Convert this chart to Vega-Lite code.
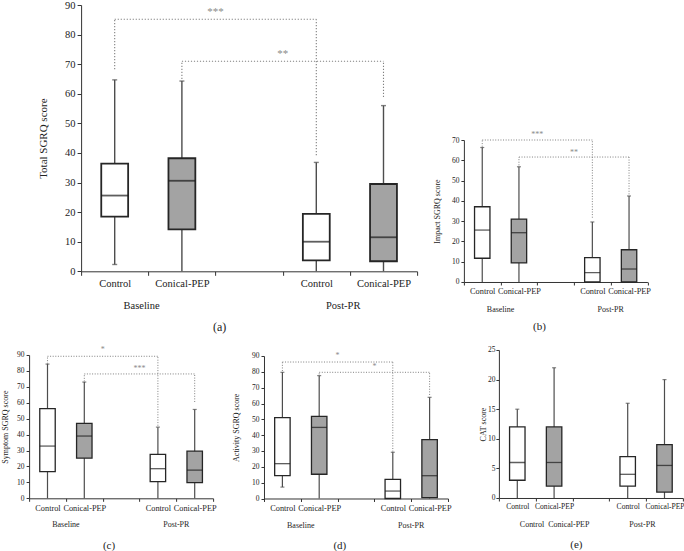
{
  "$schema": "https://vega.github.io/schema/vega-lite/v6.json",
  "padding": {"left": 1.1, "top": 0, "right": 0, "bottom": 0},
  "config": {
    "view": {"stroke": null},
    "font": "Liberation Serif",
    "text": {"font": "Liberation Serif"},
    "axis": {
      "domainColor": "#333333",
      "tickColor": "#333333",
      "labelColor": "#222222",
      "titleColor": "#222222",
      "labelFont": "Liberation Serif",
      "titleFont": "Liberation Serif",
      "titleFontWeight": "normal",
      "grid": false,
      "domainWidth": 1,
      "tickWidth": 1,
      "labelOverlap": false
    }
  },
  "datasets": {
    "a_box": [
      {"key": "Baseline|Control", "group": "Control", "min": 2.3, "q1": 18.5, "med": 25.6, "q3": 36.4, "max": 64.7},
      {"key": "Baseline|Conical-PEP", "group": "Conical-PEP", "min": 0, "q1": 14.2, "med": 30.6, "q3": 38.2, "max": 64.3},
      {"key": "Post-PR|Control", "group": "Control", "min": 0, "q1": 3.7, "med": 10.0, "q3": 19.4, "max": 36.8},
      {"key": "Post-PR|Conical-PEP", "group": "Conical-PEP", "min": 0, "q1": 3.4, "med": 11.5, "q3": 29.5, "max": 56.0}
    ],
    "a_br": [
      {"key": "Baseline|Control", "key2": "Baseline|Control", "y1": 68.3, "y2": 85.2},
      {"key": "Baseline|Control", "key2": "Post-PR|Control", "y1": 85.2, "y2": 85.2},
      {"key": "Post-PR|Control", "key2": "Post-PR|Control", "y1": 39.2, "y2": 85.2},
      {"key": "Baseline|Conical-PEP", "key2": "Baseline|Conical-PEP", "y1": 65.0, "y2": 71.0},
      {"key": "Baseline|Conical-PEP", "key2": "Post-PR|Conical-PEP", "y1": 71.0, "y2": 71.0},
      {"key": "Post-PR|Conical-PEP", "key2": "Post-PR|Conical-PEP", "y1": 58.9, "y2": 71.0}
    ],
    "a_st": [
      {"key": "gap", "y": 87.6, "label": "***"},
      {"key": "Post-PR|Control", "y": 73.5, "label": "**"}
    ],
    "a_grp": [
      {"key": "Baseline|Control", "label": "Baseline"},
      {"key": "Post-PR|Control", "label": "Post-PR"}
    ],
    "b_box": [
      {"key": "Baseline|Control", "group": "Control", "min": 0, "q1": 11.7, "med": 25.6, "q3": 37.1, "max": 66.3},
      {"key": "Baseline|Conical-PEP", "group": "Conical-PEP", "min": 0, "q1": 9.4, "med": 24.3, "q3": 31.0, "max": 56.8},
      {"key": "Post-PR|Control", "group": "Control", "min": 0, "q1": 0, "med": 4.6, "q3": 12.0, "max": 29.6},
      {"key": "Post-PR|Conical-PEP", "group": "Conical-PEP", "min": 0, "q1": 0, "med": 6.4, "q3": 15.9, "max": 42.4}
    ],
    "b_br": [
      {"key": "Baseline|Control", "key2": "Baseline|Control", "y1": 66.7, "y2": 70},
      {"key": "Baseline|Control", "key2": "Post-PR|Control", "y1": 70, "y2": 70},
      {"key": "Post-PR|Control", "key2": "Post-PR|Control", "y1": 31.7, "y2": 70},
      {"key": "Baseline|Conical-PEP", "key2": "Baseline|Conical-PEP", "y1": 57.5, "y2": 61.6},
      {"key": "Baseline|Conical-PEP", "key2": "Post-PR|Conical-PEP", "y1": 61.6, "y2": 61.6},
      {"key": "Post-PR|Conical-PEP", "key2": "Post-PR|Conical-PEP", "y1": 43.2, "y2": 61.6}
    ],
    "b_st": [
      {"key": "gap", "y": 72.3, "label": "***"},
      {"key": "Post-PR|Control", "y": 63.5, "label": "**"}
    ],
    "b_grp": [
      {"key": "Baseline|Conical-PEP", "label": "Baseline"},
      {"key": "Post-PR|Conical-PEP", "label": "Post-PR"}
    ],
    "c_box": [
      {"key": "Baseline|Control", "group": "Control", "min": 0, "q1": 16.7, "med": 32.8, "q3": 56.3, "max": 84.3},
      {"key": "Baseline|Conical-PEP", "group": "Conical-PEP", "min": 0, "q1": 25.2, "med": 39.1, "q3": 47.0, "max": 73.0},
      {"key": "Post-PR|Control", "group": "Control", "min": 0, "q1": 10.5, "med": 18.6, "q3": 27.6, "max": 44.7},
      {"key": "Post-PR|Conical-PEP", "group": "Conical-PEP", "min": 0, "q1": 9.8, "med": 17.7, "q3": 29.6, "max": 55.8}
    ],
    "c_br": [
      {"key": "Baseline|Control", "key2": "Baseline|Control", "y1": 84.5, "y2": 89.2},
      {"key": "Baseline|Control", "key2": "Post-PR|Control", "y1": 89.2, "y2": 89.2},
      {"key": "Post-PR|Control", "key2": "Post-PR|Control", "y1": 45.6, "y2": 89.2},
      {"key": "Baseline|Conical-PEP", "key2": "Baseline|Conical-PEP", "y1": 73.4, "y2": 78.1},
      {"key": "Baseline|Conical-PEP", "key2": "Post-PR|Conical-PEP", "y1": 78.1, "y2": 78.1},
      {"key": "Post-PR|Conical-PEP", "key2": "Post-PR|Conical-PEP", "y1": 60.5, "y2": 78.1}
    ],
    "c_st": [
      {"key": "gap", "y": 92.9, "label": "*"},
      {"key": "Post-PR|Control", "y": 81.0, "label": "***"}
    ],
    "c_grp": [
      {"key": "Baseline|Conical-PEP", "label": "Baseline"},
      {"key": "Post-PR|Conical-PEP", "label": "Post-PR"}
    ],
    "d_box": [
      {"key": "Baseline|Control", "group": "Control", "min": 7.2, "q1": 14.4, "med": 22.0, "q3": 51.1, "max": 79.7},
      {"key": "Baseline|Conical-PEP", "group": "Conical-PEP", "min": 0, "q1": 15.3, "med": 44.9, "q3": 51.9, "max": 77.6},
      {"key": "Post-PR|Control", "group": "Control", "min": 0, "q1": 0, "med": 4.7, "q3": 12.1, "max": 29.2},
      {"key": "Post-PR|Conical-PEP", "group": "Conical-PEP", "min": 0, "q1": 0.5, "med": 14.4, "q3": 37.2, "max": 63.9}
    ],
    "d_br": [
      {"key": "Baseline|Control", "key2": "Baseline|Control", "y1": 80.5, "y2": 86.2},
      {"key": "Baseline|Control", "key2": "Post-PR|Control", "y1": 86.2, "y2": 86.2},
      {"key": "Post-PR|Control", "key2": "Post-PR|Control", "y1": 29.6, "y2": 86.2},
      {"key": "Baseline|Conical-PEP", "key2": "Baseline|Conical-PEP", "y1": 78.4, "y2": 79.7},
      {"key": "Baseline|Conical-PEP", "key2": "Post-PR|Conical-PEP", "y1": 79.7, "y2": 79.7},
      {"key": "Post-PR|Conical-PEP", "key2": "Post-PR|Conical-PEP", "y1": 65.4, "y2": 79.7}
    ],
    "d_st": [
      {"key": "gap", "y": 90.0, "label": "*"},
      {"key": "Post-PR|Control", "y": 83.3, "label": "*"}
    ],
    "d_grp": [
      {"key": "Baseline|Conical-PEP", "label": "Baseline"},
      {"key": "Post-PR|Conical-PEP", "label": "Post-PR"}
    ],
    "e_box": [
      {"key": "Baseline|Control", "group": "Control", "min": 0, "q1": 3, "med": 6, "q3": 12, "max": 15},
      {"key": "Baseline|Conical-PEP", "group": "Conical-PEP", "min": 0, "q1": 2, "med": 6, "q3": 12, "max": 22},
      {"key": "Post-PR|Control", "group": "Control", "min": 0, "q1": 2, "med": 4, "q3": 7, "max": 16},
      {"key": "Post-PR|Conical-PEP", "group": "Conical-PEP", "min": 0, "q1": 1, "med": 5.5, "q3": 9, "max": 20}
    ],
    "e_grp": [
      {"key": "Baseline|Control", "label": "Control"},
      {"key": "Baseline|Conical-PEP", "label": "Conical-PEP"},
      {"key": "Post-PR|Control", "label": "Post-PR"}
    ]
  },
  "vconcat": [
    {
      "hconcat": [
        {"width": 7.3, "height": 1, "data": {"values": []}, "mark": {"type": "point", "opacity": 0}},
        {
          "hconcat": [
            {
              "width": 336,
              "height": 266.3,
              "layer": [
                {
                  "data": {"name": "a_box"},
                  "mark": {"type": "rule", "color": "#4d4d4d", "strokeWidth": 1.4},
                  "encoding": {
                    "x": {
                      "field": "key", "type": "nominal",
                      "scale": {"domain": ["Baseline|Control", "Baseline|Conical-PEP", "gap", "Post-PR|Control", "Post-PR|Conical-PEP"], "paddingInner": 0, "paddingOuter": 0},
                      "axis": {"title": "(a)", "titleFontSize": 12, "titlePadding": 32, "titleX": 138, "titleAlign": "center", "labelExpr": "split(datum.value, '|')[1] || ''", "labelAngle": 0, "labelFontSize": 10.5, "labelPadding": 3.5, "tickSize": 4, "tickBand": "extent", "labelOverlap": false}
                    },
                    "y": {
                      "field": "min", "type": "quantitative",
                      "scale": {"domain": [0, 90], "nice": false},
                      "axis": {"title": "Total SGRQ score", "values": [0, 10, 20, 30, 40, 50, 60, 70, 80, 90], "tickCount": 20, "labelOverlap": false, "labelFontSize": 10.5, "titleFontSize": 11, "titlePadding": 16, "tickSize": 4, "labelPadding": 2}
                    },
                    "y2": {"field": "max"}
                  }
                },
                {
                  "data": {"name": "a_box"},
                  "mark": {"type": "tick", "color": "#4d4d4d", "thickness": 1.4, "size": 5},
                  "encoding": {"x": {"field": "key", "type": "nominal"}, "y": {"field": "max", "type": "quantitative"}}
                },
                {
                  "data": {"name": "a_box"},
                  "transform": [{"filter": "datum.min > 0"}],
                  "mark": {"type": "tick", "color": "#4d4d4d", "thickness": 1.4, "size": 5},
                  "encoding": {"x": {"field": "key", "type": "nominal"}, "y": {"field": "min", "type": "quantitative"}}
                },
                {
                  "data": {"name": "a_box"},
                  "mark": {"type": "bar", "stroke": "#262626", "strokeWidth": 1.8, "width": {"band": 0.4}},
                  "encoding": {
                    "x": {"field": "key", "type": "nominal"},
                    "y": {"field": "q1", "type": "quantitative"},
                    "y2": {"field": "q3"},
                    "fill": {"field": "group", "type": "nominal", "scale": {"domain": ["Control", "Conical-PEP"], "range": ["#ffffff", "#a3a3a3"]}, "legend": null}
                  }
                },
                {
                  "data": {"name": "a_box"},
                  "mark": {"type": "tick", "color": "#1a1a1a", "thickness": 1.8, "size": 27},
                  "encoding": {"x": {"field": "key", "type": "nominal"}, "y": {"field": "med", "type": "quantitative"}}
                },
                {
                  "data": {"name": "a_br"},
                  "mark": {"type": "rule", "color": "#808080", "strokeWidth": 1.1, "strokeDash": [1.2, 1.8]},
                  "encoding": {"x": {"field": "key", "type": "nominal"}, "x2": {"field": "key2"}, "y": {"field": "y1", "type": "quantitative"}, "y2": {"field": "y2"}}
                },
                {
                  "data": {"name": "a_st"},
                  "mark": {"type": "text", "color": "#8a8a8a", "fontSize": 11, "baseline": "middle"},
                  "encoding": {"x": {"field": "key", "type": "nominal", "bandPosition": 0}, "y": {"field": "y", "type": "quantitative"}, "text": {"field": "label"}}
                },
                {
                  "data": {"name": "a_grp"},
                  "mark": {"type": "text", "color": "#222222", "fontSize": 10.5, "baseline": "middle"},
                  "encoding": {"x": {"field": "key", "type": "nominal", "bandPosition": 0.9}, "y": {"datum": -11.8, "type": "quantitative"}, "text": {"field": "label"}}
                }
              ]
            },
            {
              "vconcat": [
                {"width": 10, "height": 125.7, "data": {"values": []}, "mark": {"type": "point", "opacity": 0}},
                {
                  "width": 183.5,
                  "height": 142,
                  "layer": [
                    {
                      "data": {"name": "b_box"},
                      "mark": {"type": "rule", "color": "#4d4d4d", "strokeWidth": 1.2},
                      "encoding": {
                        "x": {
                          "field": "key", "type": "nominal",
                          "scale": {"domain": ["Baseline|Control", "Baseline|Conical-PEP", "gap", "Post-PR|Control", "Post-PR|Conical-PEP"], "paddingInner": 0, "paddingOuter": 0},
                          "axis": {"title": "(b)", "titleFontSize": 11, "titlePadding": 25, "titleX": 75, "titleAlign": "center", "labelExpr": "split(datum.value, '|')[1] || ''", "labelAngle": 0, "labelFontSize": 8.3, "labelPadding": 2, "tickSize": 3, "tickBand": "extent", "labelOverlap": false}
                        },
                        "y": {
                          "field": "min", "type": "quantitative",
                          "scale": {"domain": [0, 70], "nice": false},
                          "axis": {"title": "Impact SGRQ score", "values": [0, 10, 20, 30, 40, 50, 60, 70], "tickCount": 20, "labelOverlap": false, "labelFontSize": 7.5, "titleFontSize": 8, "titlePadding": 10, "tickSize": 3, "labelPadding": 2}
                        },
                        "y2": {"field": "max"}
                      }
                    },
                    {
                      "data": {"name": "b_box"},
                      "mark": {"type": "tick", "color": "#4d4d4d", "thickness": 1.2, "size": 4},
                      "encoding": {"x": {"field": "key", "type": "nominal"}, "y": {"field": "max", "type": "quantitative"}}
                    },
                    {
                      "data": {"name": "b_box"},
                      "mark": {"type": "bar", "stroke": "#262626", "strokeWidth": 1.3, "width": {"band": 0.42}},
                      "encoding": {
                        "x": {"field": "key", "type": "nominal"},
                        "y": {"field": "q1", "type": "quantitative"},
                        "y2": {"field": "q3"},
                        "fill": {"field": "group", "type": "nominal", "scale": {"domain": ["Control", "Conical-PEP"], "range": ["#ffffff", "#a3a3a3"]}, "legend": null}
                      }
                    },
                    {
                      "data": {"name": "b_box"},
                      "mark": {"type": "tick", "color": "#1a1a1a", "thickness": 1.3, "size": 15.4},
                      "encoding": {"x": {"field": "key", "type": "nominal"}, "y": {"field": "med", "type": "quantitative"}}
                    },
                    {
                      "data": {"name": "b_br"},
                      "mark": {"type": "rule", "color": "#808080", "strokeWidth": 1, "strokeDash": [1, 1.6]},
                      "encoding": {"x": {"field": "key", "type": "nominal"}, "x2": {"field": "key2"}, "y": {"field": "y1", "type": "quantitative"}, "y2": {"field": "y2"}}
                    },
                    {
                      "data": {"name": "b_st"},
                      "mark": {"type": "text", "color": "#8a8a8a", "fontSize": 8, "baseline": "middle"},
                      "encoding": {"x": {"field": "key", "type": "nominal", "bandPosition": 0}, "y": {"field": "y", "type": "quantitative"}, "text": {"field": "label"}}
                    },
                    {
                      "data": {"name": "b_grp"},
                      "mark": {"type": "text", "color": "#222222", "fontSize": 8, "baseline": "middle"},
                      "encoding": {"x": {"field": "key", "type": "nominal", "bandPosition": 0}, "y": {"datum": -13.8, "type": "quantitative"}, "text": {"field": "label"}}
                    }
                  ]
                }
              ],
              "spacing": 0,
              "resolve": {"scale": {"x": "independent", "y": "independent"}}
            }
          ],
          "spacing": 14.8,
          "resolve": {"scale": {"x": "independent", "y": "independent"}}
        }
      ],
      "spacing": 0,
      "resolve": {"scale": {"x": "independent", "y": "independent"}}
    },
    {
      "hconcat": [
        {
          "vconcat": [
            {"width": 1, "height": 0.5, "data": {"values": []}, "mark": {"type": "point", "opacity": 0}},
            {
              "width": 184,
              "height": 143.3,
              "layer": [
                {
                  "data": {"name": "c_box"},
                  "mark": {"type": "rule", "color": "#4d4d4d", "strokeWidth": 1.2},
                  "encoding": {
                    "x": {
                      "field": "key", "type": "nominal",
                      "scale": {"domain": ["Baseline|Control", "Baseline|Conical-PEP", "gap", "Post-PR|Control", "Post-PR|Conical-PEP"], "paddingInner": 0, "paddingOuter": 0},
                      "axis": {"title": "(c)", "titleFontSize": 11, "titlePadding": 28, "titleX": 79.4, "titleAlign": "center", "labelExpr": "split(datum.value, '|')[1] || ''", "labelAngle": 0, "labelFontSize": 8.3, "labelPadding": 2, "tickSize": 3, "tickBand": "extent", "labelOverlap": false}
                    },
                    "y": {
                      "field": "min", "type": "quantitative",
                      "scale": {"domain": [0, 90], "nice": false},
                      "axis": {"title": "Symptom SGRQ score", "values": [0, 10, 20, 30, 40, 50, 60, 70, 80, 90], "tickCount": 20, "labelOverlap": false, "labelFontSize": 7.5, "titleFontSize": 8, "titlePadding": 7, "tickSize": 3, "labelPadding": 2}
                    },
                    "y2": {"field": "max"}
                  }
                },
                {
                  "data": {"name": "c_box"},
                  "mark": {"type": "tick", "color": "#4d4d4d", "thickness": 1.2, "size": 4},
                  "encoding": {"x": {"field": "key", "type": "nominal"}, "y": {"field": "max", "type": "quantitative"}}
                },
                {
                  "data": {"name": "c_box"},
                  "mark": {"type": "bar", "stroke": "#262626", "strokeWidth": 1.3, "width": {"band": 0.42}},
                  "encoding": {
                    "x": {"field": "key", "type": "nominal"},
                    "y": {"field": "q1", "type": "quantitative"},
                    "y2": {"field": "q3"},
                    "fill": {"field": "group", "type": "nominal", "scale": {"domain": ["Control", "Conical-PEP"], "range": ["#ffffff", "#a3a3a3"]}, "legend": null}
                  }
                },
                {
                  "data": {"name": "c_box"},
                  "mark": {"type": "tick", "color": "#1a1a1a", "thickness": 1.3, "size": 15.4},
                  "encoding": {"x": {"field": "key", "type": "nominal"}, "y": {"field": "med", "type": "quantitative"}}
                },
                {
                  "data": {"name": "c_br"},
                  "mark": {"type": "rule", "color": "#808080", "strokeWidth": 1, "strokeDash": [1, 1.6]},
                  "encoding": {"x": {"field": "key", "type": "nominal"}, "x2": {"field": "key2"}, "y": {"field": "y1", "type": "quantitative"}, "y2": {"field": "y2"}}
                },
                {
                  "data": {"name": "c_st"},
                  "mark": {"type": "text", "color": "#8a8a8a", "fontSize": 8, "baseline": "middle"},
                  "encoding": {"x": {"field": "key", "type": "nominal", "bandPosition": 0}, "y": {"field": "y", "type": "quantitative"}, "text": {"field": "label"}}
                },
                {
                  "data": {"name": "c_grp"},
                  "mark": {"type": "text", "color": "#222222", "fontSize": 8, "baseline": "middle"},
                  "encoding": {"x": {"field": "key", "type": "nominal", "bandPosition": 0}, "y": {"datum": -17.0, "type": "quantitative"}, "text": {"field": "label"}}
                }
              ]
            }
          ],
          "spacing": 0,
          "resolve": {"scale": {"x": "independent", "y": "independent"}}
        },
        {
          "vconcat": [
            {"width": 198.3, "height": 6.5, "data": {"values": []}, "mark": {"type": "point", "opacity": 0}},
            {
              "width": 184,
              "height": 142.5,
              "layer": [
                {
                  "data": {"name": "d_box"},
                  "mark": {"type": "rule", "color": "#4d4d4d", "strokeWidth": 1.2},
                  "encoding": {
                    "x": {
                      "field": "key", "type": "nominal",
                      "scale": {"domain": ["Baseline|Control", "Baseline|Conical-PEP", "gap", "Post-PR|Control", "Post-PR|Conical-PEP"], "paddingInner": 0, "paddingOuter": 0},
                      "axis": {"title": "(d)", "titleFontSize": 11, "titlePadding": 28, "titleX": 75.3, "titleAlign": "center", "labelExpr": "split(datum.value, '|')[1] || ''", "labelAngle": 0, "labelFontSize": 8.3, "labelPadding": 2, "tickSize": 3, "tickBand": "extent", "labelOverlap": false}
                    },
                    "y": {
                      "field": "min", "type": "quantitative",
                      "scale": {"domain": [0, 90], "nice": false},
                      "axis": {"title": "Activity SGRQ score", "values": [0, 10, 20, 30, 40, 50, 60, 70, 80, 90], "tickCount": 20, "labelOverlap": false, "labelFontSize": 7.5, "titleFontSize": 8, "titlePadding": 10.5, "tickSize": 3, "labelPadding": 2}
                    },
                    "y2": {"field": "max"}
                  }
                },
                {
                  "data": {"name": "d_box"},
                  "mark": {"type": "tick", "color": "#4d4d4d", "thickness": 1.2, "size": 4},
                  "encoding": {"x": {"field": "key", "type": "nominal"}, "y": {"field": "max", "type": "quantitative"}}
                },
                {
                  "data": {"name": "d_box"},
                  "transform": [{"filter": "datum.min > 0"}],
                  "mark": {"type": "tick", "color": "#4d4d4d", "thickness": 1.2, "size": 4},
                  "encoding": {"x": {"field": "key", "type": "nominal"}, "y": {"field": "min", "type": "quantitative"}}
                },
                {
                  "data": {"name": "d_box"},
                  "mark": {"type": "bar", "stroke": "#262626", "strokeWidth": 1.3, "width": {"band": 0.42}},
                  "encoding": {
                    "x": {"field": "key", "type": "nominal"},
                    "y": {"field": "q1", "type": "quantitative"},
                    "y2": {"field": "q3"},
                    "fill": {"field": "group", "type": "nominal", "scale": {"domain": ["Control", "Conical-PEP"], "range": ["#ffffff", "#a3a3a3"]}, "legend": null}
                  }
                },
                {
                  "data": {"name": "d_box"},
                  "mark": {"type": "tick", "color": "#1a1a1a", "thickness": 1.3, "size": 15.4},
                  "encoding": {"x": {"field": "key", "type": "nominal"}, "y": {"field": "med", "type": "quantitative"}}
                },
                {
                  "data": {"name": "d_br"},
                  "mark": {"type": "rule", "color": "#808080", "strokeWidth": 1, "strokeDash": [1, 1.6]},
                  "encoding": {"x": {"field": "key", "type": "nominal"}, "x2": {"field": "key2"}, "y": {"field": "y1", "type": "quantitative"}, "y2": {"field": "y2"}}
                },
                {
                  "data": {"name": "d_st"},
                  "mark": {"type": "text", "color": "#8a8a8a", "fontSize": 8, "baseline": "middle"},
                  "encoding": {"x": {"field": "key", "type": "nominal", "bandPosition": 0}, "y": {"field": "y", "type": "quantitative"}, "text": {"field": "label"}}
                },
                {
                  "data": {"name": "d_grp"},
                  "mark": {"type": "text", "color": "#222222", "fontSize": 8, "baseline": "middle"},
                  "encoding": {"x": {"field": "key", "type": "nominal", "bandPosition": 0}, "y": {"datum": -17.2, "type": "quantitative"}, "text": {"field": "label"}}
                }
              ]
            }
          ],
          "spacing": 0,
          "resolve": {"scale": {"x": "independent", "y": "independent"}}
        },
        {
          "vconcat": [
            {"width": 1, "height": 1, "data": {"values": []}, "mark": {"type": "point", "opacity": 0}},
            {
              "width": 184,
              "height": 148,
              "layer": [
                {
                  "data": {"name": "e_box"},
                  "mark": {"type": "rule", "color": "#4d4d4d", "strokeWidth": 1.2},
                  "encoding": {
                    "x": {
                      "field": "key", "type": "nominal",
                      "scale": {"domain": ["Baseline|Control", "Baseline|Conical-PEP", "gap", "Post-PR|Control", "Post-PR|Conical-PEP"], "paddingInner": 0, "paddingOuter": 0},
                      "axis": {"title": "(e)", "titleFontSize": 11, "titlePadding": 28, "titleX": 77, "titleAlign": "center", "labelExpr": "split(datum.value, '|')[1] || ''", "labelAngle": 0, "labelFontSize": 7.6, "labelPadding": 2, "tickSize": 3, "tickBand": "extent", "labelOverlap": false}
                    },
                    "y": {
                      "field": "min", "type": "quantitative",
                      "scale": {"domain": [0, 25], "nice": false},
                      "axis": {"title": "CAT score", "values": [0, 5, 10, 15, 20, 25], "tickCount": 20, "labelOverlap": false, "labelFontSize": 7.5, "titleFontSize": 8, "titlePadding": 0, "tickSize": 3, "labelPadding": 1}
                    },
                    "y2": {"field": "max"}
                  }
                },
                {
                  "data": {"name": "e_box"},
                  "mark": {"type": "tick", "color": "#4d4d4d", "thickness": 1.2, "size": 4},
                  "encoding": {"x": {"field": "key", "type": "nominal"}, "y": {"field": "max", "type": "quantitative"}}
                },
                {
                  "data": {"name": "e_box"},
                  "mark": {"type": "bar", "stroke": "#262626", "strokeWidth": 1.3, "width": {"band": 0.42}},
                  "encoding": {
                    "x": {"field": "key", "type": "nominal"},
                    "y": {"field": "q1", "type": "quantitative"},
                    "y2": {"field": "q3"},
                    "fill": {"field": "group", "type": "nominal", "scale": {"domain": ["Control", "Conical-PEP"], "range": ["#ffffff", "#a3a3a3"]}, "legend": null}
                  }
                },
                {
                  "data": {"name": "e_box"},
                  "mark": {"type": "tick", "color": "#1a1a1a", "thickness": 1.3, "size": 15.4},
                  "encoding": {"x": {"field": "key", "type": "nominal"}, "y": {"field": "med", "type": "quantitative"}}
                },
                {
                  "data": {"name": "e_grp"},
                  "mark": {"type": "text", "color": "#222222", "fontSize": 8, "baseline": "middle"},
                  "encoding": {"x": {"field": "key", "type": "nominal", "bandPosition": 0.9}, "y": {"datum": -4.56, "type": "quantitative"}, "text": {"field": "label"}}
                }
              ]
            }
          ],
          "spacing": 0,
          "resolve": {"scale": {"x": "independent", "y": "independent"}}
        }
      ],
      "spacing": 15.9,
      "resolve": {"scale": {"x": "independent", "y": "independent"}}
    }
  ],
  "spacing": 12.0,
  "resolve": {"scale": {"x": "independent", "y": "independent"}}
}
